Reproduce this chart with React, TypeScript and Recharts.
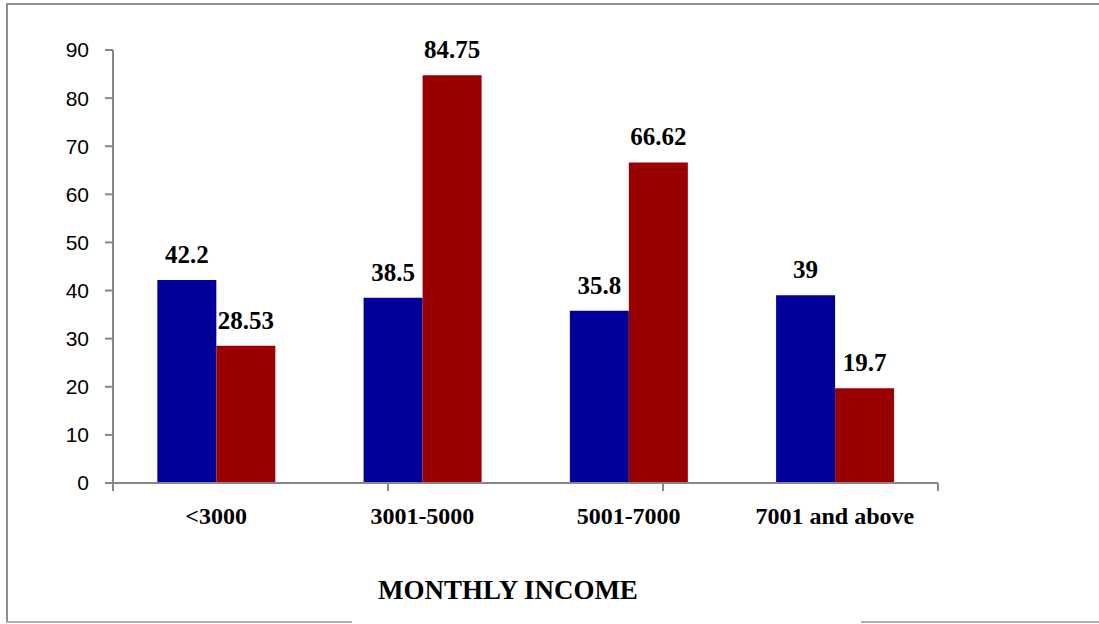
import { BarChart, Bar, XAxis, YAxis, LabelList } from "recharts";

const categories = ["<3000", "3001-5000", "5001-7000", "7001 and above"];
const blueValues = [42.2, 38.5, 35.8, 39];
const redValues = [28.53, 84.75, 66.62, 19.7];
const yTicks = [0, 10, 20, 30, 40, 50, 60, 70, 80, 90];
const boundaryTicks = [0, 1, 2, 3, 4];

const data = categories.map((name, i) => ({
  name,
  blue: blueValues[i],
  red: redValues[i],
}));

const serif = '"Liberation Serif", "Times New Roman", serif';
const axisGray = "#878787";
const borderGray = "#8e8e8e";

const NoLabel = () => <g />;

export default function App() {
  return (
    <div style={{ position: "absolute", left: 0, top: 0, width: 1099, height: 624, background: "#fff" }}>
      {/* frame around the picture (open on the right, gap at the bottom) */}
      <div style={{ position: "absolute", left: 6, top: 3, width: 2, height: 620, background: borderGray }} />
      <div style={{ position: "absolute", left: 6, top: 3, width: 1093, height: 2, background: borderGray }} />
      <div style={{ position: "absolute", left: 6, top: 621, width: 346, height: 2, background: "#b0b0b0" }} />
      <div style={{ position: "absolute", left: 861, top: 621, width: 238, height: 2, background: "#b0b0b0" }} />

      <BarChart
        width={1099}
        height={624}
        data={data}
        margin={{ top: 50, right: 161, bottom: 80, left: 0 }}
        barCategoryGap="21.5%"
        barGap={0}
      >
        <XAxis
          xAxisId="a_grid"
          type="number"
          domain={[0, 4]}
          ticks={boundaryTicks}
          allowDataOverflow
          height={1}
          tick={NoLabel}
          tickSize={8}
          stroke={axisGray}
          strokeWidth={2}
        />
        <XAxis
          xAxisId="b_cat"
          dataKey="name"
          height={60}
          axisLine={false}
          tickLine={false}
          tickSize={0}
          tickMargin={23}
          interval={0}
          tick={{ fill: "#000", fontFamily: serif, fontWeight: "bold", fontSize: 24 }}
        />
        <YAxis
          domain={[0, 90]}
          ticks={yTicks}
          width={113}
          tickSize={8}
          tickMargin={16}
          stroke={axisGray}
          strokeWidth={2}
          tick={{ fill: "#000", fontFamily: '"Liberation Sans", Arial, sans-serif', fontSize: 21 }}
        />
        <Bar dataKey="blue" xAxisId="b_cat" fill="#000099" isAnimationActive={false}>
          <LabelList
            dataKey="blue"
            position="top"
            offset={17}
            fill="#000"
            style={{ fontFamily: serif, fontWeight: "bold", fontSize: 25 }}
          />
        </Bar>
        <Bar dataKey="red" xAxisId="b_cat" fill="#990000" isAnimationActive={false}>
          <LabelList
            dataKey="red"
            position="top"
            offset={17}
            fill="#000"
            style={{ fontFamily: serif, fontWeight: "bold", fontSize: 25 }}
          />
        </Bar>
      </BarChart>

      <div
        style={{
          position: "absolute",
          left: 0,
          top: 577,
          width: 1016,
          textAlign: "center",
          fontFamily: serif,
          fontWeight: "bold",
          fontSize: 27,
          lineHeight: "26px",
          color: "#000",
        }}
      >
        MONTHLY INCOME
      </div>
    </div>
  );
}
